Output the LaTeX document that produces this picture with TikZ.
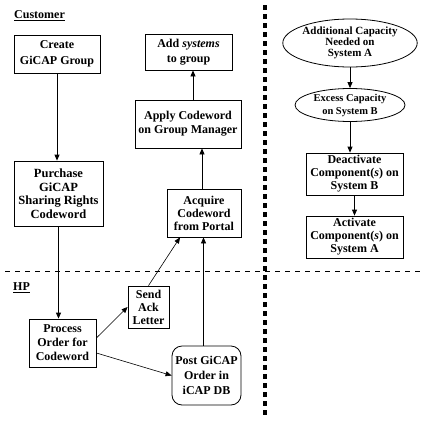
\documentclass[tikz,border=0pt]{standalone}
\usepackage{fontspec}
\setmainfont{Liberation Serif}
\usetikzlibrary{arrows.meta,shapes.geometric}
\tikzset{
  every node/.style={font=\fontsize{12}{13}\selectfont\bfseries, align=center, inner sep=0pt},
  boxnode/.style={draw, line width=0.8pt, rectangle},
  ovalnode/.style={draw, line width=0.8pt, ellipse},
  flow/.style={-{Triangle[length=6pt,width=5pt]}, line width=0.8pt},
  thin flow/.style={-{Triangle[length=6pt,width=5pt]}, line width=0.6pt},
  lanelabel/.style={anchor=west}
}
\begin{document}
\begin{tikzpicture}[x=1pt,y=-1pt]
\useasboundingbox (0,0) rectangle (425,423);
\fill[white] (0,0) rectangle (425,423);

% lane labels
\node[lanelabel] (cust) at (14,16) {\underline{Customer}};
\node[lanelabel] (hp) at (13,288) {\underline{HP}};

% separators
\draw[line width=0.8pt, dash pattern=on 5pt off 5pt] (5,271) -- (423,271);
\draw[line width=3.5pt, dash pattern=on 5pt off 4pt] (265,5) -- (265,416);

% customer lane
\node[boxnode, minimum width=86pt, minimum height=38pt, font=\fontsize{12}{16}\selectfont\bfseries] (create) at (57,54) {Create\\GiCAP Group};
\node[boxnode, minimum width=87pt, minimum height=36pt, font=\fontsize{12}{15}\selectfont\bfseries] (add) at (188.5,52) {Add \textit{systems}\\to group};
\node[boxnode, minimum width=106pt, minimum height=48pt, font=\fontsize{12}{14}\selectfont\bfseries] (apply) at (188,124) {Apply Codeword\\on Group Manager};
\node[boxnode, minimum width=89pt, minimum height=65pt, font=\fontsize{12.5}{13.5}\selectfont\bfseries] (purchase) at (58.5,193.5) {Purchase\\GiCAP\\Sharing Rights\\Codeword};
\node[boxnode, minimum width=74pt, minimum height=48pt] (acquire) at (204,213) {Acquire\\Codeword\\from Portal};

% HP lane
\node[boxnode, minimum width=41pt, minimum height=42pt] (send) at (148.5,307) {Send\\Ack\\Letter};
\node[boxnode, minimum width=67pt, minimum height=48pt, font=\fontsize{12}{14}\selectfont\bfseries] (process) at (62.5,343) {Process\\Order for\\Codeword};
\node[boxnode, rounded corners=10pt, minimum width=69pt, minimum height=59pt, font=\fontsize{12}{15}\selectfont\bfseries] (post) at (206.5,375.5) {Post GiCAP\\Order in\\iCAP DB};

% right column
\node[ovalnode, minimum width=110pt, minimum height=48pt, font=\fontsize{11}{11}\selectfont\bfseries] (need) at (350,43) {Additional Capacity\\Needed on\\System A};
\node[ovalnode, minimum width=110pt, minimum height=33pt, font=\fontsize{10.5}{13}\selectfont\bfseries] (excess) at (350,105) {Excess Capacity\\on System B};
\node[boxnode, minimum width=97pt, minimum height=42pt] (deact) at (354.5,174) {Deactivate\\Component(\textit{s}) on\\System B};
\node[boxnode, minimum width=97pt, minimum height=42pt] (act) at (354.5,237) {Activate\\Component(\textit{s}) on\\System A};

% connectors
\draw[flow] (create.south) -- (create.south |- purchase.north);
\draw[flow] ([xshift=5pt]apply.north) -- ([xshift=5pt]apply.north |- add.south);
\draw[flow] ([xshift=-2pt]acquire.north) -- ([xshift=-2pt]acquire.north |- apply.south);
\draw[flow] (purchase.south) -- (purchase.south |- process.north);
\draw[thin flow] ([yshift=5pt]process.east) -- (send.west);
\draw[thin flow] (send.north) -- ([xshift=-24pt]acquire.south);
\draw[thin flow] ([yshift=-10pt]process.east) -- (post.west);
\draw[flow] ([xshift=-3pt]post.north) -- ([xshift=-3pt]post.north |- acquire.south);
\draw[flow] (need.south) -- (excess.north);
\draw[flow] (excess.south) -- (excess.south |- deact.north);
\draw[flow] (deact.south) -- (act.north);
\end{tikzpicture}
\end{document}
